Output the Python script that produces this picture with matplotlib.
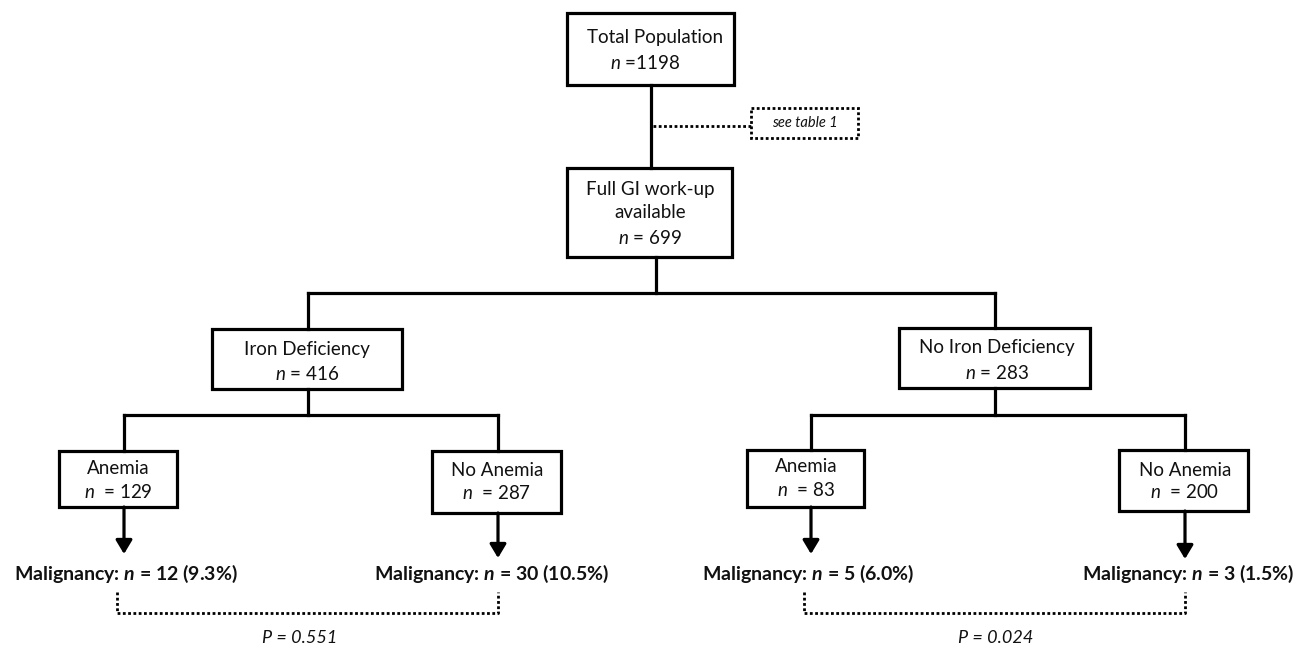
import matplotlib
matplotlib.use('Agg')
import matplotlib.pyplot as plt
from matplotlib.patches import Rectangle, FancyArrowPatch

plt.rcParams['font.family'] = ['Lato', 'DejaVu Sans']
plt.rcParams['mathtext.fontset'] = 'custom'
plt.rcParams['mathtext.rm'] = 'Lato'
plt.rcParams['mathtext.it'] = 'Lato:italic'
plt.rcParams['mathtext.bf'] = 'Lato:bold'
plt.rcParams['mathtext.bfit'] = 'Lato:bold:italic'

total_n = 1198
workup_n = 699
group_names = ['Iron Deficiency', 'No Iron Deficiency']
group_n = [416, 283]
sub_names = ['Anemia', 'No Anemia', 'Anemia', 'No Anemia']
sub_n = [129, 287, 83, 200]
malig_n = [12, 30, 5, 3]
malig_pct = [9.3, 10.5, 6.0, 1.5]
p_values = ['0.551', '0.024']

# layout (pixel units, y downwards)
LW = 2.3
fig = plt.figure(figsize=(13.14, 6.6), dpi=100)
ax = fig.add_axes([0, 0, 1, 1])
ax.set_xlim(0, 1314)
ax.set_ylim(660, 0)
ax.axis('off')

def box(x0, x1, y0, y1, dotted=False):
    if dotted:
        r = Rectangle((x0, y0), x1 - x0, y1 - y0, fill=False, lw=2.0,
                      linestyle=(0, (1, 0.9)), ec='black')
    else:
        r = Rectangle((x0, y0), x1 - x0, y1 - y0, fill=False, lw=LW, ec='black')
    ax.add_patch(r)

def line(xs, ys, dotted=False):
    if dotted:
        ax.plot(xs, ys, color='black', lw=2.0, linestyle=(0, (1, 0.9)),
                solid_capstyle='butt')
    else:
        ax.plot(xs, ys, color='black', lw=LW, solid_capstyle='projecting')

def arrow(x, y0, y1):
    a = FancyArrowPatch((x, y0), (x, y1), arrowstyle='-|>,head_length=0.55,head_width=0.33',
                        mutation_scale=15, lw=LW, color='black', shrinkA=0, shrinkB=0)
    ax.add_patch(a)

def txt(x, y, s, size=13.5, **kw):
    ax.text(x, y, s, ha='center', va='center', fontsize=size, color='#111111', **kw)

# top box
box(567, 734, 13, 85)
txt(655, 38, 'Total Population')
txt(645, 63, r'$\mathit{n}$ =' + str(total_n))
line([651, 651], [85, 168])

# see table 1
line([653, 751], [126, 126], dotted=True)
box(751, 858, 108, 138, dotted=True)
txt(805, 123, 'see table 1', size=10.5, style='italic')

# full work-up
box(567, 732, 168, 257)
txt(650, 190, 'Full GI work-up')
txt(650, 213, 'available')
txt(650, 238, r'$\mathit{n}$ = ' + str(workup_n))
line([656, 656], [257, 293])
line([308, 995], [293, 293])

# group level
group_cx = [308, 995]
group_box = [(212, 402, 329, 389), (899, 1090, 328, 388)]
group_text_x = [307, 997]
sub_cx = [[124, 498], [811, 1185]]
sub_box = [(59, 177, 451, 507), (432, 561, 451, 513),
           (747, 864, 450, 507), (1119, 1248, 450, 511)]
sub_text_x = [118, 497, 806, 1185]
sub_text_y = [(468, 492), (471, 493), (467, 490), (470, 492)]
arrow_end = [554, 558, 554, 559]
malig_x = [126, 491, 808, 1188]
bracket_x = [(117, 498), (804, 1185)]
p_x = [300, 996]

for g in range(2):
    cx = group_cx[g]
    x0, x1, y0, y1 = group_box[g]
    line([cx, cx], [293, y0])
    box(x0, x1, y0, y1)
    txt(group_text_x[g], (y0 + 20), group_names[g])
    txt(group_text_x[g], (y0 + 45), r'$\mathit{n}$ = ' + str(group_n[g]))
    line([cx, cx], [y1, 415])
    line([sub_cx[g][0], sub_cx[g][1]], [415, 415])
    for k in range(2):
        i = 2 * g + k
        sx = sub_cx[g][k]
        bx0, bx1, by0, by1 = sub_box[i]
        line([sx, sx], [415, by0])
        box(bx0, bx1, by0, by1)
        txt(sub_text_x[i], sub_text_y[i][0], sub_names[i])
        txt(sub_text_x[i], sub_text_y[i][1], r'$\mathit{n}$  = ' + str(sub_n[i]))
        arrow(sx, by1, arrow_end[i])
        txt(malig_x[i], 574,
            r'Malignancy: $\mathbfit{n}$ = ' + str(malig_n[i]) + ' (' + str(malig_pct[i]) + '%)',
            size=14, fontweight='bold')
    bl, br = bracket_x[g]
    line([bl, bl, br, br], [592, 613, 613, 592], dotted=True)
    txt(p_x[g], 638, 'P = ' + p_values[g], size=13, style='italic')

fig.savefig('out.png', dpi=100, facecolor='white')
